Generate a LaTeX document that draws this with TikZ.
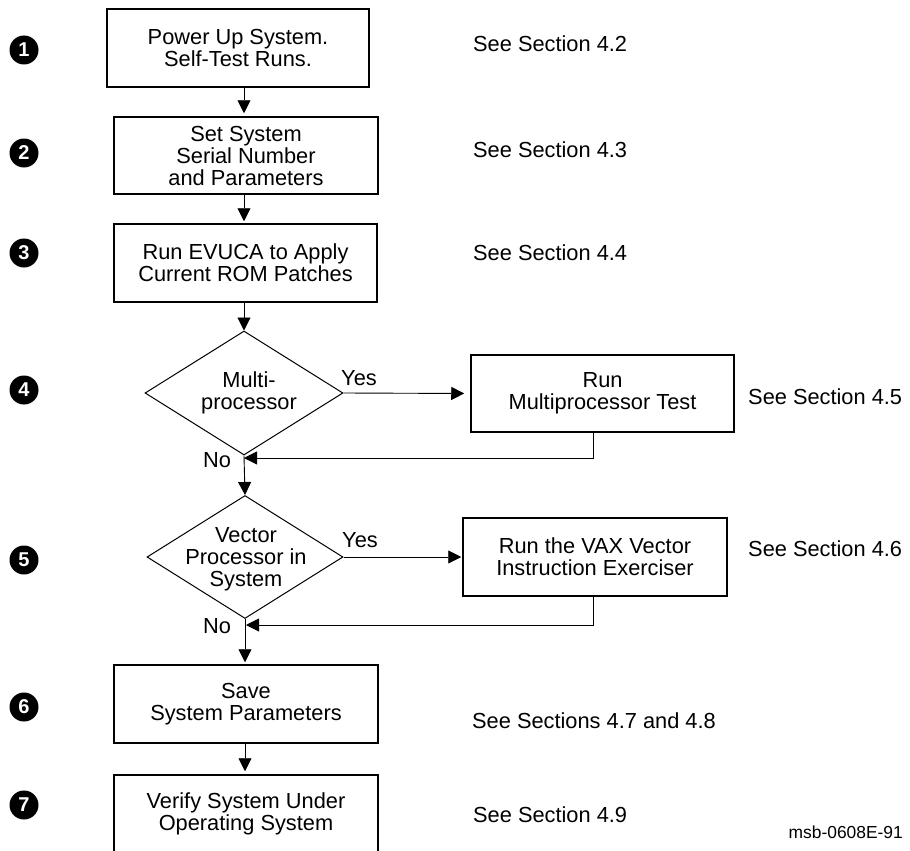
\documentclass[tikz,border=0pt]{standalone}
\usepackage{fontspec}
\setmainfont{Liberation Sans}
\usetikzlibrary{arrows.meta,shapes.geometric}
\begin{document}
\begin{tikzpicture}[x=1pt,y=-1pt,
  txt/.style={font=\fontsize{21.8}{22}\selectfont},
  box/.style={draw, line width=1.5pt, txt, align=center, inner sep=0pt,
    minimum width=263pt, minimum height=78pt},
  dia/.style={draw, diamond, line width=1pt, inner sep=0pt,
    minimum width=198pt, minimum height=124pt},
  lbl/.style={txt, inner sep=0pt, anchor=base west},
  num/.style={circle, fill=black, text=white, inner sep=0pt, minimum size=29pt,
    font=\bfseries\fontsize{20}{20}\selectfont},
  conn/.style={line width=0.9pt, -{Triangle[length=13pt,width=13pt]}}]
\useasboundingbox (0,0) rectangle (910,851);
\clip (0,0) rectangle (910,851);
\fill[white] (0,0) rectangle (910,851);
\coordinate (c) at (244,0);
% numbered markers
\node[num] (n1) at (24,50) {1};
\node[num] (n2) at (24,153) {2};
\node[num] (n3) at (24,253) {3};
\node[num] (n4) at (24,390) {4};
\node[num] (n5) at (24,560) {5};
\node[num] (n6) at (24,707) {6};
\node[num] (n7) at (24,805) {7};
% main column
\node[box, minimum width=262pt] (b1) at (238,48) {Power Up System.\\Self-Test Runs.};
\node[box, minimum width=264pt, minimum height=77pt] (b2) at (246,155.5) {Set System\\Serial Number\\and Parameters};
\node[box] (b3) at (245.5,263) {Run EVUCA to Apply\\Current ROM Patches};
\node[dia] (d1) at (244,393) {};
\node[txt, align=center, inner sep=0pt] (t1) at (249,393) {Multi-\\processor};
\node[box, minimum height=77pt] (b4) at (602.5,393.5) {Run\\Multiprocessor Test};
\node[dia, minimum width=196pt, minimum height=123pt] (d2) at (245,557) {};
\node[txt, align=center, inner sep=0pt] (t2) at (246,559) {Vector\\Processor in\\System};
\node[box, minimum width=264pt] (b5) at (595,557) {Run the VAX Vector\\Instruction Exerciser};
\node[box, minimum width=264pt] (b6) at (246,704) {Save\\System Parameters};
\node[box, minimum width=264pt] (b7) at (246,814) {Verify System Under\\Operating System};
% labels
\node[lbl] (y1) at (341,385) {Yes};
\node[lbl] (y2) at (342,547) {Yes};
\node[lbl] (no1) at (203,467) {No};
\node[lbl] (no2) at (203,633) {No};
\node[lbl] (s1) at (473,52) {See Section 4.2};
\node[lbl] (s2) at (473,157) {See Section 4.3};
\node[lbl] (s3) at (473,260) {See Section 4.4};
\node[lbl] (s4) at (748,404) {See Section 4.5};
\node[lbl] (s5) at (748,556) {See Section 4.6};
\node[lbl] (s6) at (472,728) {See Sections 4.7 and 4.8};
\node[lbl] (s7) at (473,822) {See Section 4.9};
\node[inner sep=0pt, anchor=base east, font=\fontsize{17.4}{18}\selectfont] (id) at (903,838) {msb-0608E-91};
% connectors
\coordinate (r1) at (244,458);
\coordinate (r2) at (246,625);
\draw[conn, shorten >=3pt] (b1.south -| c) -- (b2.north -| c);
\draw[conn, shorten >=2pt] (b2.south -| c) -- (b3.north -| c);
\draw[conn] (b3.south -| c) -- (d1.north);
\draw[conn, shorten >=6pt] (d1.east) -- (b4.west);
\draw[conn] ([xshift=-9pt]b4.south) |- (r1);
\draw[conn] (d1.south) -- (d2.north);
\draw[conn, shorten >=1pt] (d2.east) -- (b5.west);
\draw[conn] ([xshift=-2pt]b5.south) |- (r2);
\draw[conn, shorten >=2pt] (d2.south) -- (b6.north -| d2.south);
\draw[conn, shorten >=3pt] (b6.south -| d2.south) -- (b7.north -| d2.south);
\end{tikzpicture}
\end{document}
